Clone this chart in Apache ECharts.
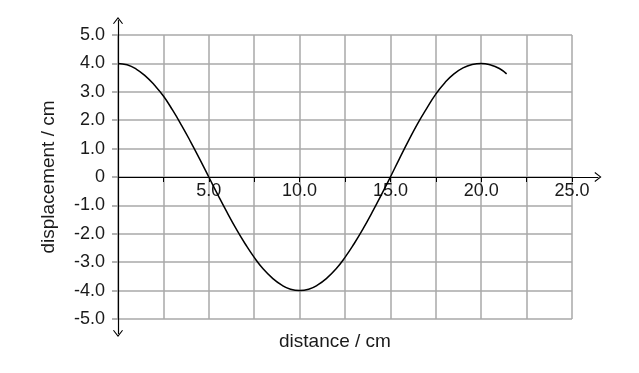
<!DOCTYPE html>
<html>
<head>
<meta charset="utf-8">
<script src="https://cdn.jsdelivr.net/npm/echarts@6/dist/echarts.min.js"></script>
<style>
html,body{margin:0;padding:0;background:#fff;}
#chart{width:639px;height:373px;}
</style>
</head>
<body>
<div id="chart"></div>
<script>
// distance (cm)
var distanceCm = [0, 0.5, 1, 1.5, 2, 2.5, 3, 3.5, 4, 4.5, 5, 5.5, 6, 6.5, 7, 7.5, 8, 8.5, 9, 9.5, 10,
  10.5, 11, 11.5, 12, 12.5, 13, 13.5, 14, 14.5, 15, 15.5, 16, 16.5, 17, 17.5, 18, 18.5, 19, 19.5, 20, 20.5, 21, 21.4];
// displacement (cm)
var displacementCm = [4.0, 3.95, 3.8, 3.56, 3.24, 2.85, 2.36, 1.82, 1.24, 0.63, 0.0, -0.63, -1.24, -1.82, -2.35, -2.83, -3.24, -3.56, -3.8, -3.95, -4.0,
  -3.95, -3.8, -3.56, -3.24, -2.83, -2.35, -1.82, -1.24, -0.63, 0.0, 0.65, 1.28, 1.88, 2.42, 2.92, 3.32, 3.63, 3.84, 3.96, 4.0, 3.95, 3.82, 3.63];

var xTickValues = [5, 10, 15, 20, 25];
var xTickLabels = ['5.0', '10.0', '15.0', '20.0', '25.0'];
var yTickValues = [5, 4, 3, 2, 1, 0, -1, -2, -3, -4, -5];
var yTickLabels = ['5.0', '4.0', '3.0', '2.0', '1.0', '0', '-1.0', '-2.0', '-3.0', '-4.0', '-5.0'];
var xTitle = 'distance / cm';
var yTitle = 'displacement / cm';

var FONT = '"Liberation Sans", Arial, sans-serif';
var TEXT = '#1a1a1a';
var chevron = 'path://M5,0 L10,6.4 L9.1,7 L5,1.7 L0.9,7 L0,6.4 Z';

function lookup(vals, labels, v) {
  for (var i = 0; i < vals.length; i++) {
    if (Math.abs(vals[i] - v) < 1e-6) return labels[i];
  }
  return '';
}

var points = distanceCm.map(function (x, i) { return [x, displacementCm[i]]; });

var chart = echarts.init(document.getElementById('chart'), null, {renderer: 'canvas'});
chart.setOption({
  animation: false,
  backgroundColor: '#fff',
  title: {
    text: xTitle, left: 279, top: 332, padding: 0,
    textStyle: {color: TEXT, fontSize: 19, fontWeight: 'normal', fontFamily: FONT}
  },
  grid: [
    // plotting area
    {left: 118, right: 67, top: 35, bottom: 54, containLabel: false, outerBoundsMode: 'none'},
    // axis lines with arrows
    {left: 118, right: 41, top: 20.5, bottom: 39.5, containLabel: false, outerBoundsMode: 'none'},
    // upper half: its bottom edge is the zero line, carries the x tick labels
    {left: 118, right: 67, top: 35, bottom: 196, containLabel: false, outerBoundsMode: 'none'}
  ],
  xAxis: [
    {
      type: 'value', gridIndex: 0, min: 0, max: 25, interval: 2.5,
      axisLine: {show: false},
      axisTick: {show: false}, axisLabel: {show: false},
      splitLine: {show: true, lineStyle: {color: '#a8a8a8', width: 1.5}}
    },
    {
      type: 'value', gridIndex: 1, min: 0, max: 1,
      axisLine: {show: true, onZero: true, symbol: ['none', chevron], symbolSize: [11, 7],
        lineStyle: {color: '#000', width: 1.2}},
      axisTick: {show: false}, axisLabel: {show: false}, splitLine: {show: false}
    },
    {
      type: 'value', gridIndex: 2, min: 0, max: 25, interval: 2.5, position: 'bottom',
      axisLine: {show: false, onZero: false},
      axisTick: {show: true, length: 5, lineStyle: {color: '#000', width: 1}},
      axisLabel: {
        show: true, margin: 5, color: TEXT, fontSize: 18, fontFamily: FONT, hideOverlap: false,
        formatter: function (v) { return lookup(xTickValues, xTickLabels, v); }
      },
      splitLine: {show: false}
    }
  ],
  yAxis: [
    {
      type: 'value', gridIndex: 0, min: -5, max: 5, interval: 1,
      axisLine: {show: false},
      axisTick: {show: true, length: 6, lineStyle: {color: '#999', width: 1.5}},
      axisLabel: {
        show: true, margin: 13, color: TEXT, fontSize: 18, fontFamily: FONT, hideOverlap: false,
        showMinLabel: true, showMaxLabel: true,
        formatter: function (v) { return lookup(yTickValues, yTickLabels, v); }
      },
      splitLine: {show: true, lineStyle: {color: '#a8a8a8', width: 1.5}},
      name: yTitle, nameLocation: 'middle', nameGap: 60, nameRotate: 90,
      nameTextStyle: {color: TEXT, fontSize: 19, fontFamily: FONT}
    },
    {
      type: 'value', gridIndex: 1, min: -1, max: 1,
      axisLine: {show: true, symbol: [chevron, chevron], symbolSize: [11, 7],
        lineStyle: {color: '#000', width: 1.2}},
      axisTick: {show: false}, axisLabel: {show: false}, splitLine: {show: false}
    },
    {
      type: 'value', gridIndex: 2, min: 0, max: 5, show: false
    }
  ],
  series: [
    {
      type: 'line', xAxisIndex: 0, yAxisIndex: 0, data: points,
      smooth: true, showSymbol: false, z: 5,
      lineStyle: {color: '#000', width: 1.5}
    }
  ]
});
</script>
</body>
</html>
